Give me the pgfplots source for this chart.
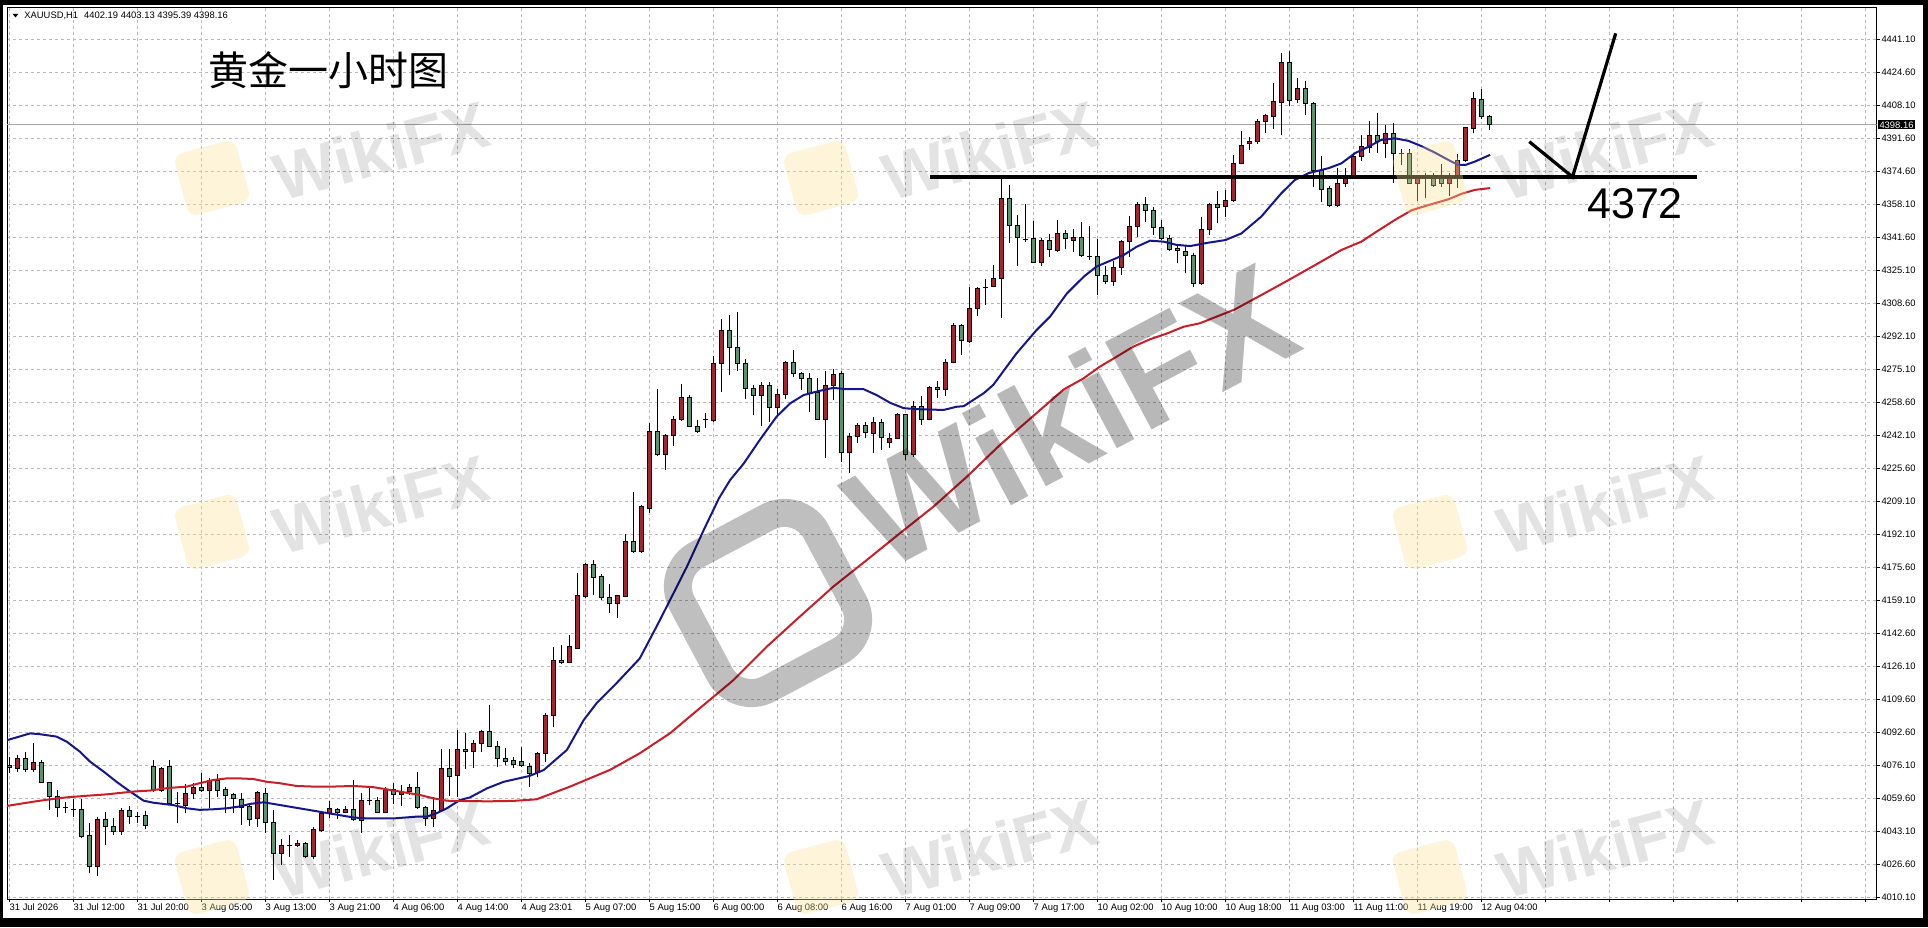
\documentclass[border=0pt]{standalone}
\usepackage{pgfplots}
\pgfplotsset{compat=1.18}
\usepackage{pgfplotstable}
\usepackage{fontspec}
\setmainfont{Liberation Sans}
\newfontfamily\cjk{Noto Sans CJK SC}
\definecolor{cred}{RGB}{185,28,40}
\definecolor{cgreen}{RGB}{82,150,110}
\definecolor{mablue}{RGB}{22,22,140}
\definecolor{mared}{RGB}{200,30,40}
\definecolor{gridc}{RGB}{185,185,185}
\definecolor{wmyellow}{RGB}{250,226,150}
\pgfplotstableread{
i o h l c
0 4076.3 4080.9 4072.6 4075.3
1 4075.1 4081.8 4073.4 4079.9
2 4079.9 4083.5 4073.4 4074.6
3 4074.6 4087.6 4073.4 4077.9
4 4077.9 4079.2 4067.5 4068.0
5 4068.0 4068.4 4054.2 4060.8
6 4060.8 4064.2 4050.4 4055.5
7 4055.2 4058.3 4052.5 4055.2
8 4054.3 4059.5 4050.6 4054.3
9 4054.2 4059.5 4040.2 4040.8
10 4041.1 4047.5 4022.3 4025.7
11 4025.7 4050.4 4021.0 4049.6
12 4049.6 4053.1 4036.6 4045.8
13 4045.8 4049.9 4041.6 4043.3
14 4043.3 4055.0 4041.6 4054.0
15 4054.0 4055.9 4047.1 4050.8
16 4051.1 4053.3 4047.7 4051.1
17 4051.6 4053.6 4044.4 4046.6
18 4075.9 4079.2 4063.4 4063.9
19 4063.9 4075.9 4063.4 4075.1
20 4075.9 4079.2 4057.1 4057.4
21 4057.4 4063.4 4047.7 4057.4
22 4056.6 4067.2 4052.5 4062.5
23 4062.5 4067.6 4059.5 4065.6
24 4065.6 4072.6 4063.4 4063.9
25 4063.9 4070.0 4055.0 4069.2
26 4069.2 4072.2 4060.8 4063.9
27 4064.2 4065.9 4052.5 4061.2
28 4061.7 4062.8 4052.5 4059.8
29 4059.5 4062.5 4046.6 4055.5
30 4055.9 4057.2 4046.1 4049.4
31 4049.8 4063.9 4045.8 4062.8
32 4062.5 4065.0 4042.4 4047.7
33 4047.7 4054.2 4019.0 4032.4
34 4032.4 4039.5 4026.5 4036.4
35 4036.2 4041.6 4030.7 4036.2
36 4036.2 4039.1 4035.7 4037.4
37 4037.4 4038.3 4029.9 4030.7
38 4030.7 4045.8 4029.4 4044.1
39 4043.8 4053.3 4043.3 4052.5
40 4052.5 4058.8 4049.9 4055.0
41 4054.5 4055.0 4049.4 4052.8
42 4052.8 4055.9 4052.5 4054.2
43 4054.2 4069.2 4048.7 4049.4
44 4049.1 4062.5 4042.7 4059.1
45 4059.0 4065.4 4056.6 4059.0
46 4059.1 4060.8 4052.5 4052.8
47 4052.8 4065.9 4052.5 4064.5
48 4064.2 4067.9 4057.4 4062.0
49 4062.0 4066.7 4055.9 4063.4
50 4063.4 4067.1 4061.7 4065.6
51 4065.6 4073.2 4054.8 4055.5
52 4055.5 4055.9 4046.1 4049.9
53 4049.9 4060.8 4045.8 4053.8
54 4053.8 4084.6 4053.3 4075.1
55 4075.1 4084.6 4061.2 4070.9
56 4071.7 4094.4 4060.8 4084.6
57 4084.6 4092.7 4074.6 4083.5
58 4083.5 4089.3 4075.1 4087.6
59 4087.6 4094.4 4083.4 4093.5
60 4093.5 4106.8 4085.6 4085.9
61 4085.9 4089.0 4075.6 4080.1
62 4080.1 4085.1 4076.8 4078.4
63 4078.9 4080.6 4075.1 4077.2
64 4078.4 4085.9 4075.9 4076.3
65 4075.9 4077.5 4065.9 4072.5
66 4072.9 4083.4 4070.5 4082.6
67 4082.6 4102.6 4078.4 4101.8
68 4101.8 4136.2 4095.9 4129.4
69 4129.4 4137.0 4127.5 4128.3
70 4128.3 4142.0 4128.1 4136.2
71 4135.3 4173.0 4134.8 4161.6
72 4161.3 4178.3 4160.4 4177.6
73 4177.6 4179.7 4162.1 4171.0
74 4171.3 4172.7 4159.6 4160.9
75 4160.9 4167.6 4153.2 4158.0
76 4158.0 4162.0 4150.4 4161.6
77 4161.3 4192.6 4160.9 4189.2
78 4189.2 4213.9 4183.1 4183.9
79 4183.9 4207.3 4183.4 4206.4
80 4205.6 4248.3 4203.4 4244.4
81 4244.4 4265.4 4231.9 4232.7
82 4232.7 4242.9 4224.8 4242.4
83 4242.1 4252.1 4236.8 4250.3
84 4250.3 4267.9 4249.4 4261.2
85 4261.2 4262.4 4246.2 4246.5
86 4246.9 4249.9 4243.6 4244.1
87 4250.3 4253.7 4245.8 4250.3
88 4249.9 4282.0 4249.1 4278.4
89 4278.4 4300.5 4264.2 4295.1
90 4295.1 4302.6 4272.6 4286.4
91 4286.4 4304.0 4274.8 4278.4
92 4278.4 4280.4 4260.3 4265.9
93 4265.9 4267.6 4252.5 4262.2
94 4262.2 4268.8 4247.0 4267.4
95 4267.1 4268.8 4249.1 4256.3
96 4256.3 4265.4 4252.5 4262.9
97 4262.9 4279.8 4260.3 4278.7
98 4278.7 4285.1 4271.4 4273.1
99 4273.1 4274.3 4265.1 4270.9
100 4270.9 4273.4 4254.2 4263.4
101 4263.9 4270.9 4249.9 4250.3
102 4250.3 4274.8 4230.7 4267.4
103 4267.4 4275.5 4260.0 4272.9
104 4273.4 4274.8 4229.0 4233.5
105 4233.5 4243.6 4223.5 4241.9
106 4241.9 4248.6 4238.5 4247.4
107 4247.1 4249.1 4240.7 4243.6
108 4243.3 4251.3 4233.2 4248.8
109 4248.8 4250.3 4234.9 4241.2
110 4238.5 4243.6 4235.7 4240.7
111 4240.7 4253.3 4240.2 4252.5
112 4252.5 4253.0 4229.8 4232.4
113 4232.4 4259.7 4231.5 4256.6
114 4256.6 4262.0 4247.4 4250.3
115 4250.3 4266.8 4249.9 4266.4
116 4266.4 4269.7 4260.8 4265.1
117 4265.1 4280.4 4262.0 4278.9
118 4278.9 4298.8 4278.4 4297.2
119 4297.2 4298.2 4282.5 4289.8
120 4289.3 4316.9 4288.8 4306.0
121 4306.0 4316.9 4302.2 4316.1
122 4316.4 4320.6 4307.7 4316.4
123 4316.9 4327.8 4316.6 4321.2
124 4321.2 4371.3 4301.0 4361.3
125 4361.3 4367.9 4339.0 4347.5
126 4347.8 4352.9 4327.3 4341.5
127 4340.8 4358.4 4339.5 4340.8
128 4341.2 4350.0 4328.6 4328.9
129 4328.9 4341.2 4327.3 4340.3
130 4340.3 4343.2 4332.0 4335.6
131 4335.0 4350.4 4334.5 4343.7
132 4343.7 4345.6 4335.6 4341.0
133 4340.0 4346.1 4334.5 4341.7
134 4341.7 4349.5 4332.0 4332.8
135 4332.3 4347.3 4330.3 4332.3
136 4332.0 4341.0 4312.7 4322.6
137 4322.6 4327.3 4318.2 4319.4
138 4319.4 4329.9 4317.3 4326.5
139 4326.5 4340.3 4322.8 4339.5
140 4339.5 4352.4 4332.0 4347.3
141 4347.0 4359.6 4341.7 4358.4
142 4358.4 4362.1 4349.5 4355.1
143 4355.3 4357.0 4342.9 4346.6
144 4346.6 4350.4 4340.3 4341.2
145 4341.2 4342.9 4335.0 4335.6
146 4336.1 4337.3 4328.9 4335.0
147 4334.8 4337.8 4323.6 4332.4
148 4332.8 4333.7 4316.6 4318.3
149 4318.3 4351.7 4317.8 4345.6
150 4345.6 4359.1 4342.9 4358.4
151 4358.4 4365.0 4349.0 4356.7
152 4357.4 4365.5 4351.7 4360.1
153 4360.1 4383.0 4359.6 4378.5
154 4378.8 4395.2 4378.5 4388.0
155 4388.9 4391.9 4385.5 4389.6
156 4389.7 4401.0 4388.6 4399.8
157 4399.8 4403.6 4394.2 4402.6
158 4402.3 4419.3 4396.3 4409.8
159 4409.4 4434.3 4393.0 4429.7
160 4429.7 4435.2 4407.7 4410.6
161 4410.9 4421.5 4409.2 4416.5
162 4416.5 4420.3 4403.1 4408.9
163 4408.9 4409.5 4367.1 4375.4
164 4375.4 4382.6 4359.2 4365.7
165 4366.2 4367.6 4356.7 4357.6
166 4357.6 4376.3 4356.7 4368.8
167 4368.5 4376.3 4367.1 4371.3
168 4372.2 4383.0 4371.8 4382.2
169 4382.2 4393.1 4380.2 4387.2
170 4386.9 4400.3 4383.9 4392.6
171 4392.6 4404.3 4383.9 4389.7
172 4388.9 4398.1 4381.4 4393.9
173 4393.9 4399.0 4369.1 4383.9
174 4383.6 4385.9 4378.0 4383.6
175 4383.6 4385.9 4368.4 4368.8
176 4368.8 4372.3 4360.1 4371.7
177 4371.8 4374.2 4361.3 4371.8
178 4371.3 4373.9 4367.1 4367.6
179 4371.7 4378.5 4367.1 4368.8
180 4368.8 4374.2 4362.2 4371.7
181 4371.8 4383.6 4366.2 4380.2
182 4380.2 4397.3 4379.7 4396.9
183 4396.4 4414.8 4393.9 4411.4
184 4411.1 4416.0 4401.0 4402.2
185 4402.19 4403.13 4395.39 4398.16
}\candles
\pgfplotstableread{
x y
-0.28 4089.2
2.6 4092.6
3.8 4092.2
5.9 4091.0
7.2 4088.4
8.8 4083.5
10.1 4078.4
11.8 4073.4
13.4 4068.3
15.1 4063.4
16.8 4058.8
18.0 4057.8
20.5 4056.6
22.2 4055.0
23.8 4054.2
25.5 4054.5
27.2 4055.0
28.8 4055.9
30.1 4057.2
31.8 4058.0
33.0 4057.2
35.5 4055.5
38.0 4053.8
40.5 4052.1
43.0 4050.4
44.7 4049.9
48.0 4049.9
50.9 4050.8
52.2 4050.8
53.4 4052.5
54.7 4055.0
56.3 4059.1
57.6 4060.5
59.7 4065.0
61.8 4068.3
65.0 4071.2
66.8 4074.2
69.7 4084.3
71.8 4099.3
73.4 4107.7
75.9 4117.8
78.8 4130.2
80.9 4146.2
82.6 4159.6
84.7 4176.3
86.8 4194.7
88.7 4210.6
90.1 4219.8
91.8 4228.1
93.8 4239.9
95.9 4251.6
97.6 4258.3
99.3 4262.5
101.3 4264.6
103.0 4266.1
104.7 4265.4
106.8 4265.4
108.4 4262.5
110.1 4258.6
111.8 4255.9
113.4 4255.4
116.8 4255.0
118.4 4256.6
119.3 4256.9
121.8 4263.4
123.0 4267.6
125.9 4283.4
128.4 4295.1
130.1 4301.9
132.2 4313.5
134.3 4321.9
135.9 4327.0
137.6 4329.9
139.3 4332.8
140.9 4336.9
142.6 4340.0
144.3 4339.5
145.9 4337.9
147.6 4337.3
149.9 4339.0
152.0 4340.3
154.0 4343.6
156.5 4352.1
159.0 4363.8
160.7 4370.5
162.4 4373.9
164.9 4376.4
166.5 4378.8
168.2 4383.9
169.9 4387.2
171.5 4390.6
173.2 4391.4
174.9 4390.1
176.5 4387.5
178.2 4384.2
179.9 4380.5
181.1 4378.0
182.0 4378.0
183.2 4379.7
185.1 4383.1
}\tblue
\pgfplotstableread{
x y
-0.28 4056.2
3.0 4058.3
5.1 4059.5
7.2 4060.5
9.7 4061.3
12.2 4062.0
15.5 4063.4
17.6 4063.9
19.7 4065.1
22.2 4065.9
23.8 4067.6
25.5 4069.2
27.2 4070.0
28.8 4070.0
30.5 4069.7
32.2 4068.3
33.8 4067.6
35.9 4066.2
38.0 4065.9
40.5 4065.9
43.0 4066.2
45.5 4065.6
47.2 4064.5
48.8 4063.4
51.3 4061.7
53.0 4060.0
54.7 4058.8
57.2 4058.6
60.0 4058.5
63.0 4058.7
65.9 4059.5
70.1 4065.9
75.1 4074.3
78.8 4082.6
82.6 4092.7
86.3 4105.2
90.5 4119.3
94.7 4136.2
98.8 4151.2
103.0 4166.3
107.2 4179.7
111.3 4193.0
115.5 4206.4
119.7 4221.5
123.8 4237.3
131.8 4265.3
134.3 4270.9
136.3 4276.7
138.4 4281.7
140.5 4286.8
142.6 4290.5
144.7 4293.4
146.8 4296.8
148.8 4298.5
153.2 4305.5
156.5 4312.7
159.9 4320.2
163.2 4327.7
166.5 4335.3
169.0 4339.5
170.7 4344.0
173.2 4350.4
175.3 4355.3
177.4 4357.9
179.9 4360.8
181.5 4363.5
183.2 4365.5
185.1 4366.4
}\tred
\begin{document}
\begin{tikzpicture}[x=0.5pt,y=0.5pt]
\fill[black] (0,0) rectangle (1928,927);
\fill[white] (3,8.7) rectangle (1922.7,921.5);
\begin{axis}[
  at={(3.5pt,13.85pt)}, anchor=south west,
  scale only axis, width=934.85pt, height=445.65pt,
  xmin=-0.2875, xmax=233.425, ymin=4009.30, ymax=4456.83,
  axis line style={black, line width=0.5pt},
  tick align=outside, major tick length=1.4pt,
  tick style={black, line width=0.5pt},
  xtick pos=left, ytick pos=right, yticklabel pos=right,
  xtick={0,8,...,232},
  xticklabels={31 Jul 2026,31 Jul 12:00,31 Jul 20:00,3 Aug 05:00,3 Aug 13:00,3 Aug 21:00,4 Aug 06:00,4 Aug 14:00,4 Aug 23:01,5 Aug 07:00,5 Aug 15:00,6 Aug 00:00,6 Aug 08:00,6 Aug 16:00,7 Aug 01:00,7 Aug 09:00,7 Aug 17:00,10 Aug 02:00,10 Aug 10:00,10 Aug 18:00,11 Aug 03:00,11 Aug 11:00,11 Aug 19:00,12 Aug 04:00,,,,,,},
  ytick={4010.10,4026.68,4043.25,4059.83,4076.41,4092.98,4109.56,4126.14,4142.72,4159.29,4175.87,4192.45,4209.02,4225.60,4242.18,4258.75,4275.33,4291.91,4308.48,4325.06,4341.64,4358.21,4374.79,4391.37,4407.95,4424.52,4441.10},
  yticklabels={4010.10,4026.60,4043.10,4059.60,4076.10,4092.60,4109.60,4126.10,4142.60,4159.10,4175.60,4192.10,4209.10,4225.60,4242.10,4258.60,4275.10,4292.10,4308.60,4325.10,4341.60,4358.10,4374.60,4391.60,4408.10,4424.60,4441.10},
  grid=major,
  major grid style={gridc, dash pattern=on 1.6pt off 1.4pt, line width=0.45pt},
  ticklabel style={font=\fontsize{4.7}{5.6}\selectfont, inner sep=0pt},
  xticklabel style={anchor=north west, yshift=-0.6pt},
  yticklabel style={anchor=west, xshift=0.8pt},
]
\addplot[color={rgb,255:red,165;green,165;blue,165}, line width=0.5pt] coordinates {(-0.2875,4398.16) (233.425,4398.16)};
% wicks
\addplot[draw=none, mark=none, error bars/.cd, y dir=plus, y explicit, error mark=none,
  error bar style={line width=0.5pt, draw=black}]
  table[x=i, y=l, y error expr=\thisrow{h}-\thisrow{l}] {\candles};
% body outlines
\addplot[draw=none, mark=none, error bars/.cd, y dir=plus, y explicit, error mark=none,
  error bar style={line width=2.5pt, draw=black, line cap=butt}]
  table[x=i, y expr={min(\thisrow{o},\thisrow{c})-0.25}, y error expr={abs(\thisrow{c}-\thisrow{o})+0.5}] {\candles};
% up bodies (red)
\addplot[draw=none, mark=none, error bars/.cd, y dir=plus, y explicit, error mark=none,
  error bar style={line width=1.5pt, draw=cred, line cap=butt}]
  table[x=i, y expr={\thisrow{c}>\thisrow{o} ? \thisrow{o}+0.25 : nan}, y error expr={max(\thisrow{c}-\thisrow{o}-0.5,0)}] {\candles};
% down bodies (green)
\addplot[draw=none, mark=none, error bars/.cd, y dir=plus, y explicit, error mark=none,
  error bar style={line width=1.5pt, draw=cgreen, line cap=butt}]
  table[x=i, y expr={\thisrow{c}<\thisrow{o} ? \thisrow{c}+0.25 : nan}, y error expr={max(\thisrow{o}-\thisrow{c}-0.5,0)}] {\candles};
\addplot[mablue, line width=1pt] table[x=x, y=y] {\tblue};
\addplot[mared, line width=1pt] table[x=x, y=y] {\tred};
\addplot[black, line width=1.6pt] coordinates {(115.1,4372) (211.0,4372)};
\addplot[black, line width=1.6pt] coordinates {(190.0,4389.7) (195.4,4372) (200.8,4444.1)};
\coordinate (pb) at (axis cs:233.425,4398.16);
\end{axis}
\node[fill=black, text=white, anchor=west, inner sep=0.6pt, font=\fontsize{4.7}{5.6}\selectfont] at ([xshift=0.6pt]pb) {4398.16};
% header
\fill[black] (12.7,913) -- (18.3,913) -- (15.5,909.5) -- cycle;
\node[anchor=west, inner sep=0pt, font=\fontsize{4.7}{5.6}\selectfont] at (24,911) {XAUUSD,H1\hspace{3pt}4402.19 4403.13 4395.39 4398.16};
% title and label
\node[inner sep=0pt, font=\cjk\fontsize{20}{20}\selectfont] at (328,857) {黄金一小时图};
\node[inner sep=0pt, font=\fontsize{21.5}{21.5}\selectfont] at (1635,723) {4372};
% watermarks
\foreach \px/\py in {212/749,821/749,1430/749,212/395,1430/395,212/50,821/50,1430/50}{
  \fill[wmyellow, opacity=0.35, rounded corners=5pt, rotate around={15:(\px,\py)}] (\px-32,\py-32) rectangle (\px+32,\py+32);
}
\foreach \px/\py in {381/777,990/777,1605/777,381/423,1605/423,381/79,990/79,1605/79}{
  \node[rotate=15, text=black, opacity=0.11, font=\fontsize{33}{33}\selectfont\bfseries] at (\px,\py) {WikiFX};
}
\draw[black, opacity=0.25, line width=14pt, rounded corners=18pt, rotate around={28:(768,324)}] (692,248) rectangle (844,400);
\node[rotate=28, text=black, opacity=0.28, font=\fontsize{72}{72}\selectfont\bfseries] at (1070,512) {WikiFX};
\end{tikzpicture}
\end{document}
